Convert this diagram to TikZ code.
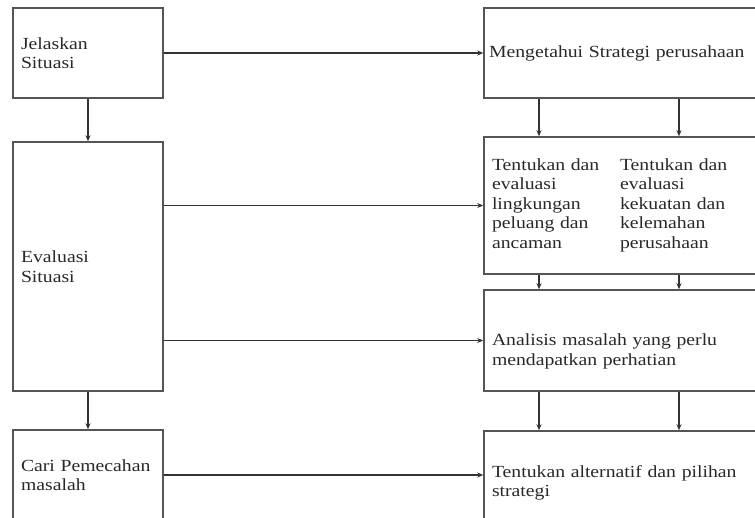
\documentclass[tikz,border=0pt]{standalone}
\usepackage{fontspec}
\setmainfont{Liberation Serif}[FakeStretch=1.16]
\usepackage{tikz}
\usetikzlibrary{positioning, arrows.meta}
\definecolor{boxgray}{RGB}{85, 85, 85}
\definecolor{txtgray}{RGB}{40, 40, 40}

\begin{document}
\begin{tikzpicture}[x=1pt, y=-1pt, >={Stealth[length=6pt, width=5pt]},
    font=\fontsize{17}{19.5}\selectfont,
    lbox/.style={draw=boxgray, line width=1.5pt, text=txtgray, align=left,
                 minimum width=150pt, text width=134pt, inner xsep=8pt},
    rbox/.style={draw=boxgray, line width=1.5pt, text=txtgray, align=left,
                 minimum width=291pt, text width=275pt, inner xsep=8pt},
    arr/.style={->, line width=1.2pt, draw=black!80}]
  \useasboundingbox (0,0) rectangle (755,518);
  \clip (0,0) rectangle (755,518);

  \node[lbox, minimum height=90pt]  (jelas) at (88, 53)    {Jelaskan\\Situasi};
  \node[lbox, minimum height=249pt] (eval)  at (88, 266.5) {Evaluasi\\Situasi};
  \node[lbox, minimum height=90pt]  (cari)  at (88, 475)   {Cari Pemecahan\\masalah};

  \node[rbox, minimum height=90pt]  (strat) at (629.5, 53)    {\hspace{-3pt}Mengetahui Strategi perusahaan};
  \node[rbox, minimum height=137pt] (tentu) at (629.5, 205.5) {%
    \begin{tabular}{@{}p{128pt}@{}p{140pt}@{}}
      Tentukan dan & Tentukan dan\\
      evaluasi     & evaluasi\\
      lingkungan   & kekuatan dan\\
      peluang dan  & kelemahan\\
      ancaman      & perusahaan
    \end{tabular}};
  \node[rbox, minimum height=101pt] (anal)  at (629.5, 340.5) {%
    \raisebox{-11pt}[\height][\depth]{\parbox{275pt}{Analisis masalah yang perlu\\mendapatkan perhatian}}};
  \node[rbox, minimum height=104pt] (alter) at (629.5, 483)   {Tentukan alternatif dan pilihan\\strategi};

  \coordinate (ca) at (539, 0);
  \coordinate (cb) at (679, 0);

  \draw[arr] (jelas) -- (eval);
  \draw[arr] (eval) -- (cari);

  \draw[arr] (jelas) -- (strat);
  \draw[arr] (eval.east |- tentu.west) -- (tentu.west);
  \draw[arr] (eval.east |- anal.west) -- (anal.west);
  \draw[arr] (cari.east) -- (cari.east -| alter.west);

  \draw[arr] (strat.south -| ca) -- (tentu.north -| ca);
  \draw[arr] (strat.south -| cb) -- (tentu.north -| cb);
  \draw[arr] (tentu.south -| ca) -- (anal.north -| ca);
  \draw[arr] (tentu.south -| cb) -- (anal.north -| cb);
  \draw[arr] (anal.south -| ca) -- (alter.north -| ca);
  \draw[arr] (anal.south -| cb) -- (alter.north -| cb);
\end{tikzpicture}
\end{document}
